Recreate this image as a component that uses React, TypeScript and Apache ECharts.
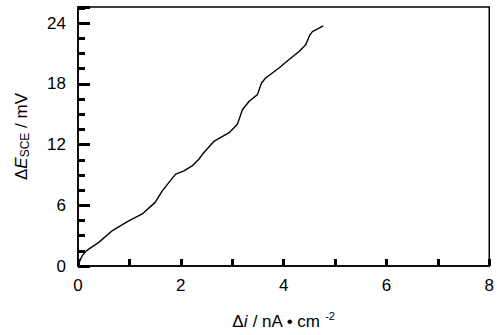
import React, { useEffect, useRef } from "react";
import * as echarts from "echarts";

const xValues = [0, 0.08, 0.16, 0.41, 0.67, 0.96, 1.25, 1.5, 1.64, 1.77, 1.9, 2.06, 2.22, 2.35, 2.42, 2.65, 2.94, 3.1, 3.2, 3.33, 3.49, 3.57, 3.65, 3.91, 4.1, 4.3, 4.43, 4.51, 4.56, 4.77];
const yValues = [0.1, 1.0, 1.5, 2.36, 3.5, 4.39, 5.14, 6.29, 7.43, 8.26, 9.08, 9.4, 9.89, 10.55, 11.04, 12.35, 13.18, 14.0, 15.47, 16.28, 16.94, 18.09, 18.58, 19.57, 20.38, 21.2, 21.86, 22.84, 23.17, 23.73];
const xTicks = [0, 2, 4, 6, 8];
const yTicks = [0, 6, 12, 18, 24];

const FONT = "Liberation Sans, Arial, sans-serif";

export default function App() {
  const ref = useRef<HTMLDivElement>(null);
  useEffect(() => {
    document.body.style.margin = "0";
    if (!ref.current) return;
    const chart = echarts.init(ref.current, undefined, { renderer: "svg" });
    const yMax = 25.6;
    chart.setOption({
      animation: false,
      backgroundColor: "#fff",
      grid: { left: 78, right: 7, top: 7, bottom: 68, show: true, borderColor: "#000", borderWidth: 1.5 },
      xAxis: {
        type: "value",
        min: 0,
        max: 8,
        interval: 2,
        name: "{d|Δ}{i|i}{n| / nA • cm }{s|-2}",
        nameLocation: "middle",
        nameGap: 44,
        nameTextStyle: {
          rich: {
            d: { fontFamily: FONT, fontSize: 17, color: "#000" },
            i: { fontFamily: FONT, fontSize: 17, fontStyle: "italic", color: "#000" },
            n: { fontFamily: FONT, fontSize: 17, color: "#000" },
            s: { fontFamily: FONT, fontSize: 11, color: "#000", padding: [0, 0, 12, 0] },
          },
        },
        axisLine: { show: true, lineStyle: { color: "#000", width: 1.5 } },
        axisTick: { show: true, inside: true, length: 7, lineStyle: { color: "#000", width: 3 } },
        minorTick: { show: true, splitNumber: 2, length: 7, lineStyle: { color: "#000", width: 3 } },
        axisLabel: {
          color: "#000",
          fontFamily: FONT,
          fontSize: 17,
          margin: 11,
          formatter: (v: number) => (xTicks.includes(v) ? String(v) : ""),
        },
        splitLine: { show: false },
      },
      yAxis: [
        {
          type: "value",
          min: 0,
          max: yMax,
          interval: 6,
          name: "{d|Δ}{e|E}{s|SCE}{n| / mV}",
          nameLocation: "middle",
          nameRotate: 90,
          nameGap: 47,
          nameTextStyle: {
            rich: {
              d: { fontFamily: FONT, fontSize: 17, color: "#000" },
              e: { fontFamily: FONT, fontSize: 17, fontStyle: "italic", color: "#000" },
              s: { fontFamily: FONT, fontSize: 12, color: "#000", padding: [7, 0, 0, 0] },
              n: { fontFamily: FONT, fontSize: 17, color: "#000" },
            },
          },
          axisLine: { show: true, lineStyle: { color: "#000", width: 1.5 } },
          axisTick: { show: true, inside: true, length: 12, lineStyle: { color: "#000", width: 3 } },
          axisLabel: {
            color: "#000",
            fontFamily: FONT,
            fontSize: 17,
            margin: 12,
            formatter: (v: number) => (yTicks.includes(v) ? String(v) : ""),
          },
          splitLine: { show: false },
        },
        {
          type: "value",
          min: 0,
          max: yMax,
          interval: 1.5,
          position: "left",
          offset: 0,
          axisLine: { show: false },
          axisTick: { show: true, inside: true, length: 7, lineStyle: { color: "#000", width: 3 } },
          axisLabel: { show: false },
          splitLine: { show: false },
        },
      ],
      series: [
        {
          type: "line",
          data: xValues.map((x, i) => [x, yValues[i]]),
          showSymbol: false,
          lineStyle: { color: "#000", width: 1.4 },
        },
      ],
    });
    return () => chart.dispose();
  }, []);
  return <div ref={ref} style={{ width: 497, height: 335 }} />;
}
